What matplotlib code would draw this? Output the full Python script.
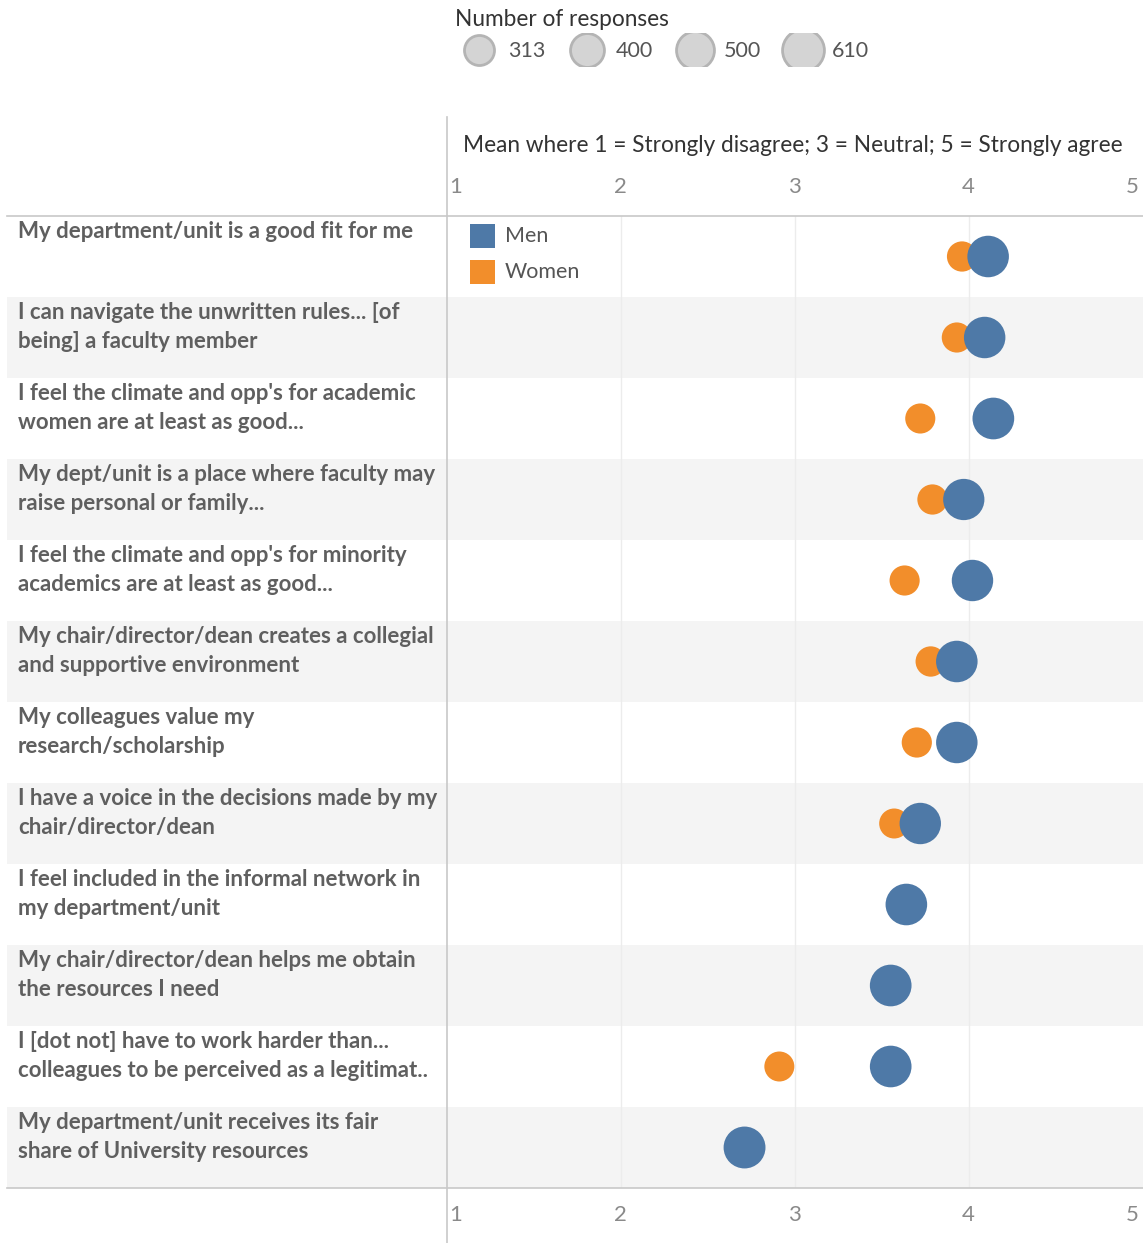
import numpy as np
import matplotlib.pyplot as plt
from matplotlib.lines import Line2D
from matplotlib.patches import Rectangle

statements = [
    "My department/unit is a good fit for me",
    "I can navigate the unwritten rules... [of\nbeing] a faculty member",
    "I feel the climate and opp's for academic\nwomen are at least as good...",
    "My dept/unit is a place where faculty may\nraise personal or family...",
    "I feel the climate and opp's for minority\nacademics are at least as good...",
    "My chair/director/dean creates a collegial\nand supportive environment",
    "My colleagues value my\nresearch/scholarship",
    "I have a voice in the decisions made by my\nchair/director/dean",
    "I feel included in the informal network in\nmy department/unit",
    "My chair/director/dean helps me obtain\nthe resources I need",
    "I [dot not] have to work harder than...\ncolleagues to be perceived as a legitimat..",
    "My department/unit receives its fair\nshare of University resources",
]
men_mean = [4.11, 4.09, 4.14, 3.97, 4.02, 3.93, 3.93, 3.72, 3.64, 3.55, 3.55, 2.71]
women_mean = [3.96, 3.93, 3.72, 3.79, 3.63, 3.78, 3.70, 3.57, np.nan, np.nan, 2.91, np.nan]
men_n = [600, 598, 605, 592, 596, 600, 598, 596, 602, 604, 603, 610]
women_n = [318, 316, 315, 318, 316, 320, 317, 313, np.nan, np.nan, 313, np.nan]
legend_sizes = [313, 400, 500, 610]
ticks = [1, 2, 3, 4, 5]

MEN = "#4e79a7"
WOMEN = "#f28e2b"
SHADE = "#f4f4f4"
LINE = "#c8c8c8"
W, H = 1143, 1243


def fx(px):
    return px / W


def fy(py):
    return 1 - py / H


def size_pts(n):
    # marker area proportional to responses; 313 -> ~30 px diameter
    return (30 * 0.72) ** 2 * np.asarray(n, dtype=float) / 313


plt.rcParams['font.family'] = ['Lato', 'DejaVu Sans']
fig = plt.figure(figsize=(W / 100, H / 100), dpi=100)
fig.patch.set_facecolor("white")

top_px, bot_px = 216, 1188
ax = fig.add_axes([fx(447), fy(bot_px), fx(1143 - 447), (bot_px - top_px) / H])
axl = fig.add_axes([fx(7), fy(bot_px), fx(447 - 7), (bot_px - top_px) / H])
nrows = len(statements)
for a in (ax, axl):
    a.set_ylim(nrows, 0)
    a.axis("off")
    for i in range(nrows):
        if i % 2 == 1:
            a.axhspan(i, i + 1, color=SHADE, lw=0, zorder=0)
ax.set_xlim(1, 5)
axl.set_xlim(0, 1)

for t in ticks[1:-1]:
    ax.axvline(t, color="#ececec", lw=1, zorder=1)

y = np.arange(nrows) + 0.5
ax.scatter(women_mean, y, s=size_pts(women_n), color=WOMEN, lw=0, zorder=3)
ax.scatter(men_mean, y, s=size_pts(men_n), color=MEN, lw=0, zorder=4)

for i, lab in enumerate(statements):
    axl.text(11 / 440, i + 0.06, lab, ha="left", va="top", fontsize=16, fontweight="bold",
             color="#5f5f5f", linespacing=1.45)

# colour legend
for j, (name, col) in enumerate([("Men", MEN), ("Women", WOMEN)]):
    yc = 236 + 36 * j
    fig.add_artist(Rectangle((fx(470), fy(yc + 12)), fx(25), 24 / H, color=col, lw=0))
    fig.text(fx(505), fy(yc), name, ha="left", va="center", fontsize=15.5, color="#555555")

# axis header and tick labels
fig.text(fx(793), fy(145), "Mean where 1 = Strongly disagree; 3 = Neutral; 5 = Strongly agree",
         ha="center", va="center", fontsize=16.3, color="#333333")
for t in ticks:
    xp = 447 + (t - 1) * (1142 - 447) / 4
    ha = "center"
    if t == ticks[0]:
        xp += 2
        ha = "left"
    elif t == ticks[-1]:
        xp -= 3
        ha = "right"
    for yp in (187, 1215):
        fig.text(fx(xp), fy(yp), str(t), ha=ha, va="center", fontsize=16, color="#8a8a8a")

# frame lines
fig.add_artist(Line2D([fx(447), fx(447)], [fy(117), fy(1243)], color=LINE, lw=1.2))
for yp in (top_px, bot_px):
    fig.add_artist(Line2D([fx(7), fx(1143)], [fy(yp), fy(yp)], color=LINE, lw=1.2))

# size legend
fig.text(fx(455), fy(19), "Number of responses", ha="left", va="center", fontsize=16.3, color="#333333")
axs = fig.add_axes([fx(455), fy(66), fx(430), 33 / H])
axs.set_xlim(455, 885)
axs.set_ylim(66, 33)
axs.axis("off")
for k, n in enumerate(legend_sizes):
    cx = 479 + 108 * k
    axs.scatter([cx], [50], s=size_pts([n]), color="#d4d4d4", edgecolor="#b4b4b4", lw=2, zorder=2)
    axs.text(cx + 29, 51, str(n), ha="left", va="center", fontsize=15.5, color="#555555")

fig.savefig("out.png", dpi=100)
